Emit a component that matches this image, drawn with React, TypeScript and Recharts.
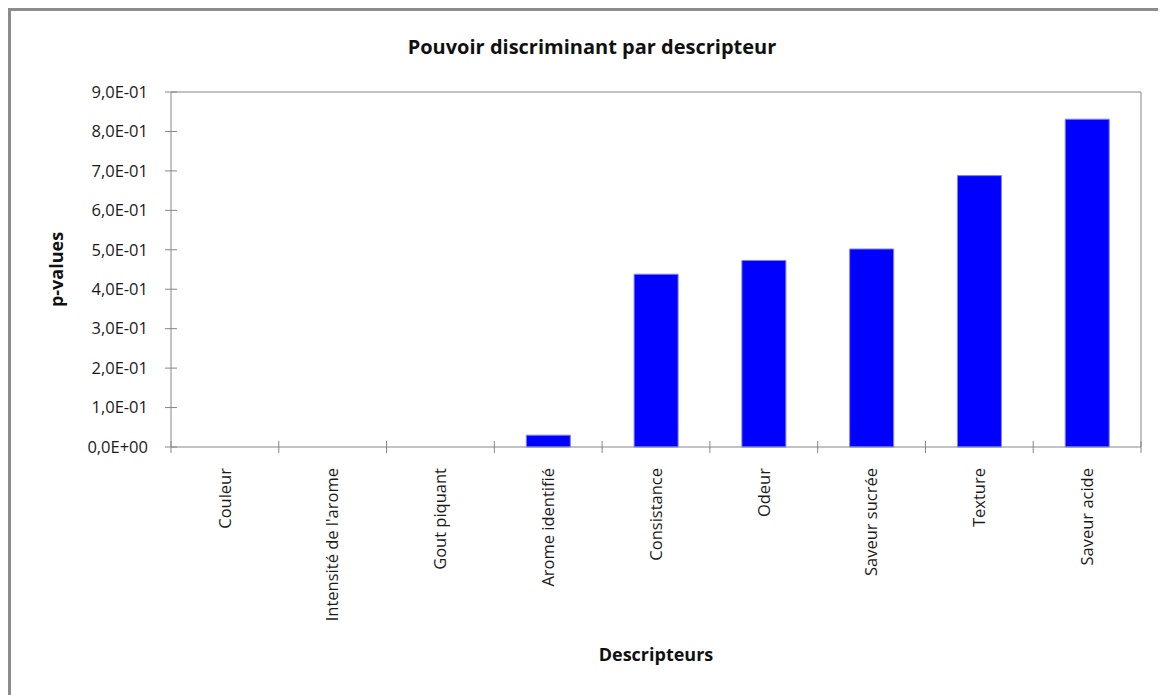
import { Bar, BarChart, Label, XAxis, YAxis } from 'recharts'

const descripteurs = [
  'Couleur',
  "Intensité de l'arome",
  'Gout piquant',
  'Arome identifié',
  'Consistance',
  'Odeur',
  'Saveur sucrée',
  'Texture',
  'Saveur acide',
]
const pValues = [0, 0, 0, 0.03, 0.438, 0.473, 0.502, 0.688, 0.831]
const yTicks = [0, 0.1, 0.2, 0.3, 0.4, 0.5, 0.6, 0.7, 0.8, 0.9]

const data = descripteurs.map((name, i) => ({ name, p: pValues[i] }))

const AXIS = '#868686'
const FONT = '"Open Sans", sans-serif'

// 0.7 -> "7,0E-01"
function sci(v: number) {
  const [m, e] = v.toExponential(1).split('e')
  const n = Number(e)
  return `${m.replace('.', ',')}E${n < 0 ? '-' : '+'}${String(Math.abs(n)).padStart(2, '0')}`
}

function YTick({ x, y, payload }: any) {
  return (
    <g>
      <line x1={x - 6} x2={x + 6} y1={y} y2={y} stroke={AXIS} />
      <text x={x - 23} y={y} dy="0.35em" textAnchor="end" fontSize={16.5} fill="#1a1a1a" fontFamily={FONT}>
        {sci(payload.value)}
      </text>
    </g>
  )
}

function XTick({ x, y, payload, index }: any) {
  const half = payload.offset ?? 970 / 18
  const last = index === descripteurs.length - 1
  const ty = y + 21
  return (
    <g>
      <line x1={x - half} x2={x - half} y1={y - 6} y2={y + 6} stroke={AXIS} />
      {last && <line x1={x + half} x2={x + half} y1={y - 6} y2={y + 6} stroke={AXIS} />}
      <text
        x={x}
        y={ty}
        dy="0.35em"
        transform={`rotate(-90, ${x}, ${ty})`}
        textAnchor="end"
        fontSize={16.5}
        fill="#1a1a1a"
        fontFamily={FONT}
      >
        {payload.value}
      </text>
    </g>
  )
}

export default function App() {
  return (
    <div
      style={{
        position: 'relative',
        width: 1158,
        height: 687,
        boxSizing: 'border-box',
        borderTop: '3px solid #8c8c8c',
        borderLeft: '3px solid #8c8c8c',
        fontFamily: FONT,
        background: '#fff',
      }}
    >
      <div
        style={{
          position: 'absolute',
          top: 26,
          left: 281,
          width: 600,
          textAlign: 'center',
          fontSize: 20,
          lineHeight: '20px',
          fontWeight: 700,
          color: '#111',
        }}
      >
        Pouvoir discriminant par descripteur
      </div>
      <BarChart width={1155} height={684} data={data} margin={{ top: 80, right: 24, bottom: 48, left: 60 }}>
        <XAxis
          dataKey="name"
          height={200}
          interval={0}
          tickSize={0}
          tickMargin={0}
          tickLine={false}
          axisLine={{ stroke: AXIS }}
          tick={<XTick />}
        >
          <Label
            content={({ viewBox }: any) => (
              <text
                x={viewBox.x + viewBox.width / 2}
                y={viewBox.y + 214}
                textAnchor="middle"
                fontSize={18}
                fontWeight={700}
                fill="#111"
                fontFamily={FONT}
              >
                Descripteurs
              </text>
            )}
          />
        </XAxis>
        <XAxis xAxisId="top" dataKey="name" orientation="top" height={1} tick={false} tickLine={false} axisLine={{ stroke: AXIS }} />
        <YAxis
          width={100}
          domain={[0, 0.9]}
          ticks={yTicks}
          interval={0}
          tickSize={0}
          tickMargin={0}
          tickLine={false}
          axisLine={{ stroke: AXIS }}
          tick={<YTick />}
        >
          <Label
            content={({ viewBox }: any) => {
              const cx = viewBox.x - 14
              const cy = viewBox.y + viewBox.height / 2
              return (
                <text
                  x={cx}
                  y={cy}
                  dy="0.35em"
                  transform={`rotate(-90, ${cx}, ${cy})`}
                  textAnchor="middle"
                  fontSize={18}
                  fontWeight={700}
                  fill="#111"
                  fontFamily={FONT}
                >
                  p-values
                </text>
              )
            }}
          />
        </YAxis>
        <YAxis yAxisId="right" orientation="right" width={1} domain={[0, 0.9]} tick={false} tickLine={false} axisLine={{ stroke: AXIS }} />
        <Bar dataKey="p" fill="#0000ff" stroke="#8080ff" strokeWidth={1} barSize={44} isAnimationActive={false} />
      </BarChart>
    </div>
  )
}
